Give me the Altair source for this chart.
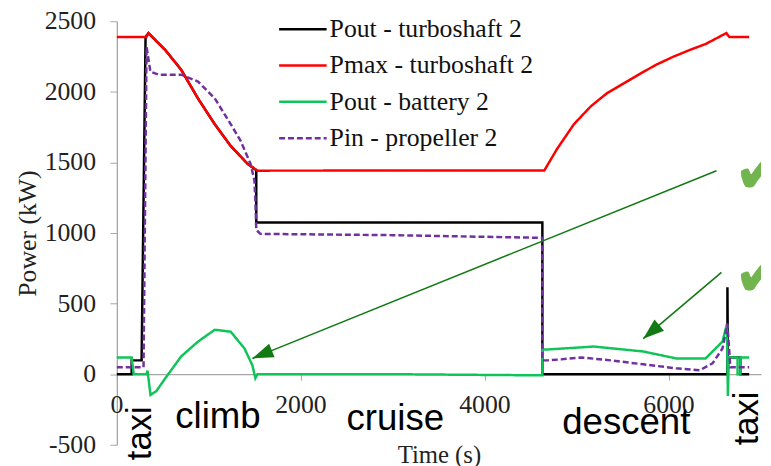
import math
import altair as alt
import pandas as pd

# ---------------- data ----------------
SERIES = ["Pout - turboshaft 2", "Pmax - turboshaft 2", "Pout - battery 2", "Pin - propeller 2"]
COLORS = ["#000000", "#FF0000", "#10C45A", "#7030A0"]
DASHES = [[1, 0], [1, 0], [1, 0], [6, 3]]

pout_turbo_t = [0, 161, 161, 269, 312, 344, 527, 700, 882, 1064, 1237, 1420, 1515, 1515, 4624, 4624,
                6635, 6635, 6640, 6775, 6775, 6871]
pout_turbo_p = [0, 0, 98, 98, 2388, 2416, 2296, 2156, 1953, 1771, 1617, 1491, 1445, 1075, 1075, 0,
                0, 616, 119, 119, 0, 0]

pmax_turbo_t = [0, 322, 344, 527, 700, 882, 1064, 1237, 1420, 1527, 4645, 4785, 4968, 5151, 5323,
                5505, 5688, 5860, 6043, 6226, 6398, 6581, 6624, 6656, 6871]
pmax_turbo_p = [2388, 2388, 2416, 2296, 2156, 1953, 1771, 1617, 1491, 1442, 1443, 1597, 1772, 1898,
                1989, 2059, 2129, 2192, 2248, 2297, 2339, 2402, 2416, 2388, 2388]

pout_batt_t = [0, 161, 183, 323, 333, 366, 430, 527, 699, 882, 1064, 1237, 1387, 1473, 1505, 1527,
               3000, 4000, 4624, 4624, 4677, 5183, 5721, 6076, 6398, 6581, 6630, 6640, 6650, 6745,
               6745, 6775, 6775, 6871]
pout_batt_p = [119, 119, 0, 0, 25, -147, -119, -28, 126, 231, 315, 301, 182, 63, -28, 0,
               0, -5, -8, 175, 175, 196, 161, 112, 112, 231, 357, -154, 119, 119,
               0, 0, 119, 119]

pin_prop_t = [0, 290, 323, 365, 452, 700, 882, 1064, 1237, 1345, 1452, 1495, 1505, 1515, 1560, 3000,
              4624, 4624, 4677, 4828, 5043, 5366, 5721, 6076, 6334, 6473, 6581, 6635, 6667, 6871]
pin_prop_p = [49, 49, 2318, 2143, 2122, 2122, 2073, 1954, 1772, 1653, 1492, 1373, 1232, 1022, 994, 985,
              966, 98, 98, 105, 119, 98, 70, 42, 28, 77, 182, 357, 49, 49]

phase_labels = ["taxi", "climb", "cruise", "descent", "taxi"]
phase_t = [376, 634, 2495, 4839, 6968]
phase_p = [-609, -378, -392, -420, -504]
phase_angle = [270, 0, 0, 0, 270]
phase_size = [35, 37, 37, 37, 35]

arrow_t1 = [6516, 6570]
arrow_p1 = [1442, 721]
arrow_t2 = [1473, 5720]
arrow_p2 = [112, 252]

check_t = [6700, 6700]
check_p = [1414, 686]

x_ticks = [0, 2000, 4000, 6000]
y_ticks = [-500, 0, 500, 1000, 1500, 2000, 2500]
X_DOMAIN = [0, 7000]
Y_DOMAIN = [-500, 2500]

W, H = 651, 428

# ---------------- tables ----------------
rows = []
for name, ts, ps in zip(SERIES,
                        [pout_turbo_t, pmax_turbo_t, pout_batt_t, pin_prop_t],
                        [pout_turbo_p, pmax_turbo_p, pout_batt_p, pin_prop_p]):
    for i, (t, p) in enumerate(zip(ts, ps)):
        rows.append({"series": name, "t": t, "p": p, "i": i})
lines_df = pd.DataFrame(rows)

sx = W / (X_DOMAIN[1] - X_DOMAIN[0])
sy = H / (Y_DOMAIN[1] - Y_DOMAIN[0])
arr_rows = []
for t1, p1, t2, p2 in zip(arrow_t1, arrow_p1, arrow_t2, arrow_p2):
    dx = (t2 - t1) * sx
    dy = -(p2 - p1) * sy
    ang = math.degrees(math.atan2(dx, -dy)) % 360
    arr_rows.append({"t1": t1, "p1": p1, "t2": t2, "p2": p2, "ang": ang})
arrows_df = pd.DataFrame(arr_rows)

ann_df = pd.DataFrame({"label": phase_labels, "t": phase_t, "p": phase_p,
                       "ang": phase_angle, "fs": phase_size})
check_df = pd.DataFrame({"t": check_t, "p": check_p, "txt": ["✔", "✔"]})
ytick_df = pd.DataFrame({"v": y_ticks, "lbl": [str(v) for v in y_ticks]})
xtick_df = pd.DataFrame({"v": x_ticks, "lbl": [str(v) for v in x_ticks]})
# legend layout (pixel rows inside the plot area)
legend_df = pd.DataFrame({"series": SERIES, "ly": [8 + 36.7 * k for k in range(len(SERIES))]})

SERIF = "Liberation Serif"
FS = 26
LABEL_COLOR = "#222222"

xscale = alt.Scale(domain=X_DOMAIN, nice=False, zero=False)
yscale = alt.Scale(domain=Y_DOMAIN, nice=False, zero=False)
cscale = alt.Scale(domain=SERIES, range=COLORS)
dscale = alt.Scale(domain=SERIES, range=DASHES)

lines = alt.Chart(lines_df).mark_line(strokeWidth=2.5, strokeJoin="miter").encode(
    x=alt.X("t:Q", scale=xscale,
            axis=alt.Axis(values=x_ticks, title="Time (s)", offset=-(H * 500 / 3000),
                          grid=False, domainColor="#A6A6A6", domainWidth=1.3,
                          tickColor="#A6A6A6", tickSize=6, labels=False,
                          titleFont=SERIF, titleFontSize=25,
                          titleFontWeight="normal", titleColor=LABEL_COLOR, titlePadding=63)),
    y=alt.Y("p:Q", scale=yscale,
            axis=alt.Axis(values=y_ticks, title="Power (kW)", grid=False,
                          domainColor="#A6A6A6", domainWidth=1.3, tickColor="#A6A6A6",
                          tickSize=7, labels=False, titleFont=SERIF,
                          titleFontSize=26, titleFontWeight="normal", titleColor=LABEL_COLOR,
                          titlePadding=70)),
    color=alt.Color("series:N", scale=cscale, legend=None),
    strokeDash=alt.StrokeDash("series:N", scale=dscale, legend=None),
    detail="series:N",
    order="i:Q",
)

ytick_labels = alt.Chart(ytick_df).mark_text(font=SERIF, fontSize=FS, align="right",
                                             baseline="middle", color=LABEL_COLOR).encode(
    x=alt.value(-21), y=alt.Y("v:Q", scale=yscale), text="lbl:N",
)
xtick_labels = alt.Chart(xtick_df).mark_text(font=SERIF, fontSize=FS, align="center",
                                             baseline="middle", color=LABEL_COLOR).encode(
    x=alt.X("v:Q", scale=xscale), y=alt.value(388), text="lbl:N",
)

legend_lines = alt.Chart(legend_df).mark_rule(strokeWidth=2.5).encode(
    x=alt.value(164), x2=alt.value(212), y=alt.Y("ly:Q", scale=None),
    color=alt.Color("series:N", scale=cscale, legend=None),
    strokeDash=alt.StrokeDash("series:N", scale=dscale, legend=None),
)
legend_text = alt.Chart(legend_df).mark_text(font=SERIF, fontSize=FS, align="left",
                                             baseline="middle", color="#111111").encode(
    x=alt.value(215), y=alt.Y("ly:Q", scale=None), text="series:N",
)

arrow_lines = alt.Chart(arrows_df).mark_rule(color="#137A13", strokeWidth=1.6).encode(
    x=alt.X("t1:Q", scale=xscale), y=alt.Y("p1:Q", scale=yscale),
    x2="t2:Q", y2="p2:Q",
)
arrow_heads = alt.Chart(arrows_df).mark_point(
    shape="M0,0L-0.7,2L0.7,2Z", filled=True, color="#137A13", opacity=1, size=450
).encode(
    x=alt.X("t2:Q", scale=xscale), y=alt.Y("p2:Q", scale=yscale),
    angle=alt.Angle("ang:Q", scale=None),
)

ann = alt.Chart(ann_df).mark_text(font="Liberation Sans", align="left",
                                  baseline="alphabetic", color="#000000").encode(
    x=alt.X("t:Q", scale=xscale), y=alt.Y("p:Q", scale=yscale),
    text="label:N", angle=alt.Angle("ang:Q", scale=None),
    size=alt.Size("fs:Q", scale=None, legend=None),
)

checks = alt.Chart(check_df).mark_text(font="DejaVu Sans", fontSize=64, align="left",
                                       baseline="middle", color="#72B54E", clip=True).encode(
    x=alt.X("t:Q", scale=xscale), y=alt.Y("p:Q", scale=yscale), text="txt:N",
)

chart = alt.layer(lines, ytick_labels, xtick_labels, legend_lines, legend_text,
                  arrow_lines, arrow_heads, ann, checks).properties(
    width=W, height=H,
    autosize=alt.AutoSizeParams(type="none"),
    padding={"left": 110, "top": 11, "right": 2, "bottom": 19},
    background="white",
).configure_view(stroke=None)

chart.save("out.html", embed_options={"renderer": "svg", "actions": False})
